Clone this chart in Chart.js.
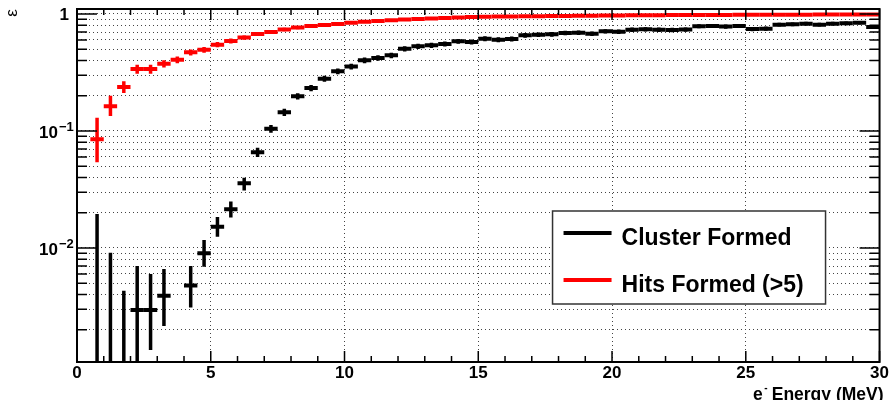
<!DOCTYPE html>
<html>
<head>
<meta charset="utf-8">
<title>Efficiency vs electron energy</title>
<script src="https://cdn.jsdelivr.net/npm/chart.js@4.4.0/dist/chart.umd.min.js"></script>
<style>
body { margin: 0; background: #fff; }
#wrap { position: relative; width: 890px; height: 400px; }
</style>
</head>
<body>
<div id="wrap"><canvas id="chart"></canvas></div>
<script>
// bins of 0.5 MeV, value at bin centre
const binCenters = [0.75, 1.25, 1.75, 2.25, 2.75, 3.25, 3.75, 4.25, 4.75, 5.25,
    5.75, 6.25, 6.75, 7.25, 7.75, 8.25, 8.75, 9.25, 9.75, 10.25,
    10.75, 11.25, 11.75, 12.25, 12.75, 13.25, 13.75, 14.25, 14.75, 15.25,
    15.75, 16.25, 16.75, 17.25, 17.75, 18.25, 18.75, 19.25, 19.75, 20.25,
    20.75, 21.25, 21.75, 22.25, 22.75, 23.25, 23.75, 24.25, 24.75, 25.25,
    25.75, 26.25, 26.75, 27.25, 27.75, 28.25, 28.75, 29.25, 29.75];
const binHalfWidth = 0.25;

const clusterEff = [0, 0, 0, 0.00295, 0.00295, 0.0039, null, 0.00478, 0.0090, 0.0152,
    0.0214, 0.0357, 0.0658, 0.1047, 0.1445, 0.198, 0.233, 0.28, 0.324, 0.355,
    0.402, 0.421, 0.443, 0.505, 0.53, 0.54, 0.554, 0.584, 0.576, 0.615,
    0.603, 0.612, 0.657, 0.666, 0.67, 0.688, 0.692, 0.679, 0.711, 0.706,
    0.734, 0.74, 0.734, 0.73, 0.735, 0.785, 0.79, 0.78, 0.79, 0.744,
    0.749, 0.81, 0.816, 0.827, 0.81, 0.827, 0.833, 0.843, 0.774];
const clusterErrLow = [0, 0, 0, 0.00295, 0.00161, 0.00175, null, 0.00168, 0.0021, 0.0027,
    0.0032, 0.0047, 0.006, 0.008, 0.01, 0.012, 0.014, 0.016, 0.018, 0.02,
    0.022, 0.023, 0.024, 0.026, 0.027, 0.027, 0.028, 0.028, 0.028, 0.029,
    0.029, 0.029, 0.03, 0.03, 0.03, 0.03, 0.03, 0.03, 0.031, 0.031,
    0.031, 0.031, 0.031, 0.031, 0.031, 0.031, 0.031, 0.031, 0.031, 0.031,
    0.031, 0.03, 0.03, 0.03, 0.03, 0.03, 0.03, 0.03, 0.031];
const clusterErrHigh = [0.0195, 0.0091, 0.0043, 0.00405, 0.00305, 0.0027, null, 0.00222, 0.0027, 0.0032,
    0.0035, 0.0041, 0.006, 0.008, 0.01, 0.012, 0.014, 0.016, 0.018, 0.02,
    0.022, 0.023, 0.024, 0.026, 0.027, 0.027, 0.028, 0.028, 0.028, 0.029,
    0.029, 0.029, 0.03, 0.03, 0.03, 0.03, 0.03, 0.03, 0.031, 0.031,
    0.031, 0.031, 0.031, 0.031, 0.031, 0.031, 0.031, 0.031, 0.031, 0.031,
    0.031, 0.03, 0.03, 0.03, 0.03, 0.03, 0.03, 0.03, 0.031];

const hitsEff = [0.085, 0.163, 0.238, 0.339, 0.339, 0.376, 0.407, 0.47, 0.495, 0.547,
    0.588, 0.628, 0.675, 0.702, 0.738, 0.765, 0.788, 0.805, 0.823, 0.843,
    0.857, 0.87, 0.885, 0.895, 0.905, 0.915, 0.925, 0.932, 0.94, 0.945,
    0.95, 0.953, 0.956, 0.958, 0.961, 0.963, 0.966, 0.968, 0.97, 0.972,
    0.974, 0.975, 0.976, 0.978, 0.979, 0.98, 0.981, 0.982, 0.983, 0.984,
    0.985, 0.986, 0.986, 0.987, 0.988, 0.988, 0.989, 0.989, 0.99];
const hitsErrLow = [0.031, 0.029, 0.027, 0.03, 0.03, 0.027, 0.027, 0.028, 0.028, 0.028,
    0.028, 0.027, 0.027, 0.026, 0.025, 0.024, 0.023, 0.022, 0.021, 0.02,
    0.019, 0.018, 0.017, 0.016, 0.015, 0.015, 0.014, 0.014, 0.013, 0.013,
    0.012, 0.012, 0.012, 0.011, 0.011, 0.011, 0.01, 0.01, 0.01, 0.01,
    0.01, 0.009, 0.009, 0.009, 0.009, 0.009, 0.008, 0.008, 0.008, 0.008,
    0.008, 0.008, 0.007, 0.007, 0.007, 0.007, 0.007, 0.007, 0.007];
const hitsErrHigh = [0.045, 0.037, 0.028, 0.03, 0.03, 0.027, 0.027, 0.028, 0.028, 0.028,
    0.028, 0.027, 0.027, 0.026, 0.025, 0.024, 0.023, 0.022, 0.021, 0.02,
    0.019, 0.018, 0.017, 0.016, 0.015, 0.015, 0.014, 0.014, 0.013, 0.013,
    0.012, 0.012, 0.012, 0.011, 0.011, 0.011, 0.01, 0.01, 0.01, 0.01,
    0.01, 0.009, 0.009, 0.009, 0.009, 0.009, 0.008, 0.008, 0.008, 0.008,
    0.008, 0.008, 0.007, 0.007, 0.007, 0.007, 0.007, 0.007, 0.007];

const seriesLabels = ['Cluster Formed', 'Hits Formed (>5)'];
const xMin = 0, xMax = 30, xStep = 5;
const yMin = 0.00106, yMax = 1.103;
const yDecades = [0.01, 0.1, 1];
const yDecadeLabels = [['10', '\u22122'], ['10', '\u22121'], ['1', '']];
const xTitle = ['e', '-', 'Energy (MeV)'];
const yTitle = '\u03b5';

const FONT = '"Liberation Sans", Arial, Helvetica, sans-serif';
Chart.defaults.font.family = FONT;

function halfBinPx(chart){
    const s = chart.scales.x;
    return Math.abs(s.getPixelForValue(binHalfWidth) - s.getPixelForValue(0));
}

function points(vals){
    return binCenters.map(function(c, i){ return {x: c, y: vals[i]}; });
}

// vertical error bars
const errorBars = {
    id: 'errorBars',
    afterDatasetsDraw(chart){
        const ctx = chart.ctx;
        const xs = chart.scales.x, ys = chart.scales.y, a = chart.chartArea;
        ctx.save();
        ctx.beginPath();
        ctx.rect(a.left, a.top, a.right - a.left, a.bottom - a.top);
        ctx.clip();
        chart.data.datasets.forEach(function(ds){
            ctx.strokeStyle = ds.borderColor;
            ctx.lineWidth = 3.5;
            ds.data.forEach(function(p, i){
                if (p.y === null) return;
                const px = xs.getPixelForValue(p.x);
                const lo = p.y - ds.errLow[i];
                const hi = p.y + ds.errHigh[i];
                const top = ys.getPixelForValue(hi);
                const bot = lo > yMin ? ys.getPixelForValue(lo) : a.bottom;
                ctx.beginPath();
                ctx.moveTo(px, bot);
                ctx.lineTo(px, top);
                ctx.stroke();
            });
        });
        ctx.restore();
    }
};

// ROOT style frame, inner ticks, labels and legend box
const decorations = {
    id: 'decorations',
    afterDraw(chart){
        const ctx = chart.ctx;
        const xs = chart.scales.x, ys = chart.scales.y, a = chart.chartArea;
        ctx.save();

        // legend
        const bx = a.right - 327, by = a.top + 202, bw = 273, bh = 93;
        ctx.fillStyle = '#fff';
        ctx.fillRect(bx, by, bw, bh);
        ctx.strokeStyle = '#333';
        ctx.lineWidth = 1.5;
        ctx.strokeRect(bx, by, bw, bh);
        ctx.font = 'bold 23px ' + FONT;
        ctx.textAlign = 'left';
        ctx.textBaseline = 'alphabetic';
        chart.data.datasets.forEach(function(ds, i){
            const ly = by + 22 + i * 47;
            ctx.strokeStyle = ds.borderColor;
            ctx.lineWidth = 4;
            ctx.beginPath();
            ctx.moveTo(bx + 11, ly);
            ctx.lineTo(bx + 59, ly);
            ctx.stroke();
            ctx.fillStyle = '#000';
            ctx.fillText(ds.label, bx + 69, ly + 12);
        });

        // frame
        ctx.strokeStyle = '#000';
        ctx.lineWidth = 2;
        ctx.strokeRect(a.left, a.top, a.right - a.left, a.bottom - a.top);

        // x ticks, bottom and top
        ctx.lineWidth = 1.5;
        for (let v = xMin; v <= xMax; v++){
            const px = xs.getPixelForValue(v);
            const len = v % xStep === 0 ? 11 : 6;
            ctx.beginPath();
            ctx.moveTo(px, a.bottom); ctx.lineTo(px, a.bottom - len);
            ctx.moveTo(px, a.top); ctx.lineTo(px, a.top + len);
            ctx.stroke();
        }
        // y ticks, left and right
        for (let e = -3; e <= 0; e++){
            for (let k = 1; k <= 9; k++){
                const v = k * Math.pow(10, e);
                if (v < yMin || v > yMax) continue;
                const py = ys.getPixelForValue(v);
                const len = k === 1 ? 20 : 10;
                ctx.beginPath();
                ctx.moveTo(a.left, py); ctx.lineTo(a.left + len, py);
                ctx.moveTo(a.right, py); ctx.lineTo(a.right - len, py);
                ctx.stroke();
            }
        }

        // y labels with exponents
        ctx.fillStyle = '#000';
        ctx.textBaseline = 'middle';
        yDecades.forEach(function(v, i){
            const py = ys.getPixelForValue(v);
            const lab = yDecadeLabels[i];
            ctx.font = 'bold 17px ' + FONT;
            if (lab[1] === ''){
                ctx.textAlign = 'right';
                ctx.fillText(lab[0], a.left - 8, py + 1);
            } else {
                ctx.textAlign = 'right';
                ctx.fillText(lab[0], a.left - 19, py + 2);
                ctx.font = 'bold 13px ' + FONT;
                ctx.textAlign = 'left';
                ctx.fillText(lab[1], a.left - 18, py - 4);
            }
        });

        // y title, rotated
        ctx.save();
        ctx.translate(12, a.top + 4);
        ctx.rotate(-Math.PI / 2);
        ctx.font = '17px ' + FONT;
        ctx.textAlign = 'center';
        ctx.fillText(yTitle, 0, 0);
        ctx.restore();

        // x title
        ctx.textBaseline = 'alphabetic';
        ctx.font = 'bold 17.5px ' + FONT;
        ctx.textAlign = 'right';
        const right = a.right + 4;
        ctx.fillText(xTitle[2], right, 399.5);
        const w = ctx.measureText(xTitle[2]).width;
        ctx.fillText(xTitle[0], right - w - 9, 399.5);
        ctx.font = 'bold 10px ' + FONT;
        ctx.textAlign = 'left';
        ctx.fillText(xTitle[1], right - w - 7.5, 391);

        ctx.restore();
    }
};

function makeChart(){
    const ctx = document.getElementById('chart').getContext('2d');
    const myChart = new Chart(ctx, {
        type: 'scatter',
        data: {
            datasets: [{
                label: seriesLabels[0],
                data: points(clusterEff),
                errLow: clusterErrLow,
                errHigh: clusterErrHigh,
                borderColor: '#000000',
                backgroundColor: '#000000',
                pointStyle: 'line',
                pointBorderWidth: 4,
                pointRadius: function(c){ return halfBinPx(c.chart); },
                pointHoverRadius: function(c){ return halfBinPx(c.chart); },
                showLine: false
            }, {
                label: seriesLabels[1],
                data: points(hitsEff),
                errLow: hitsErrLow,
                errHigh: hitsErrHigh,
                borderColor: '#ff0000',
                backgroundColor: '#ff0000',
                pointStyle: 'line',
                pointBorderWidth: 4,
                pointRadius: function(c){ return halfBinPx(c.chart); },
                pointHoverRadius: function(c){ return halfBinPx(c.chart); },
                showLine: false
            }]
        },
        options: {
            responsive: true,
            maintainAspectRatio: false,
            animation: false,
            layout: { padding: { top: 9, right: 9, left: 0, bottom: 0 } },
            plugins: {
                legend: { display: false },
                tooltip: { enabled: false }
            },
            scales: {
                x: {
                    type: 'linear',
                    min: xMin,
                    max: xMax,
                    afterFit: function(s){ s.height = 38; },
                    ticks: {
                        stepSize: xStep,
                        color: '#000',
                        padding: 1,
                        font: { size: 17, weight: 'bold' },
                        maxRotation: 0
                    },
                    grid: {
                        drawTicks: false,
                        lineWidth: 1,
                        color: function(c){
                            return (c.tick && (c.tick.value === xMin || c.tick.value === xMax)) ? 'rgba(0,0,0,0)' : '#444';
                        }
                    },
                    border: { display: false, dash: [1, 3] }
                },
                y: {
                    type: 'logarithmic',
                    min: yMin,
                    max: yMax,
                    afterFit: function(s){ s.width = 77; },
                    afterBuildTicks: function(s){
                        const t = [];
                        for (let e = -3; e <= 0; e++){
                            for (let k = 1; k <= 9; k++){
                                const v = k * Math.pow(10, e);
                                if (v >= yMin && v <= yMax) t.push({ value: v });
                            }
                        }
                        s.ticks = t;
                    },
                    ticks: { display: false },
                    grid: { drawTicks: false, lineWidth: 1, color: '#444' },
                    border: { display: false, dash: [1, 3] }
                }
            }
        },
        plugins: [errorBars, decorations]
    });
}

makeChart();
</script>
</body>
</html>
